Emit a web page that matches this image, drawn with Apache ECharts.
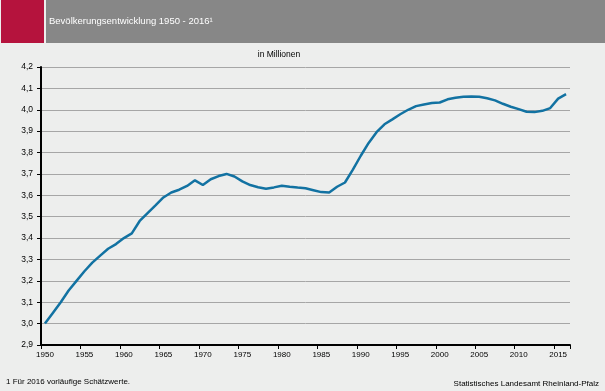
<!DOCTYPE html>
<html>
<head>
<meta charset="utf-8">
<script src="https://cdn.jsdelivr.net/npm/echarts@6/dist/echarts.min.js"></script>
<style>
html,body{margin:0;padding:0;background:#edeeed;}
#c{width:605px;height:391px;}
</style>
</head>
<body>
<div id="c"></div>
<script>
var years = [];
for (var y = 1950; y <= 2016; y++) years.push(String(y));
var population = [
  3.000, 3.050, 3.100, 3.155, 3.200, 3.245, 3.285, 3.318, 3.350, 3.372,
  3.400, 3.422, 3.480, 3.517, 3.553, 3.590, 3.613, 3.626, 3.644, 3.670,
  3.648, 3.675, 3.690, 3.700, 3.688, 3.665, 3.648, 3.638, 3.631, 3.637,
  3.645, 3.640, 3.636, 3.633, 3.624, 3.615, 3.613, 3.640, 3.660, 3.720,
  3.785, 3.845, 3.895, 3.932, 3.955, 3.979, 4.000, 4.017, 4.025, 4.032,
  4.034, 4.049, 4.056, 4.061, 4.062, 4.061, 4.054, 4.044, 4.028, 4.014,
  4.003, 3.991, 3.989, 3.995, 4.008, 4.052, 4.073
];
var headerTitle = 'Bevölkerungsentwicklung 1950 - 2016¹';
var unitLabel = 'in Millionen';
var footnote = '1 Für 2016 vorläufige Schätzwerte.';
var source = 'Statistisches Landesamt Rheinland-Pfalz';

var font = 'Liberation Sans, Arial, sans-serif';
var chart = echarts.init(document.getElementById('c'), null, {renderer: 'canvas'});
chart.setOption({
  backgroundColor: '#edeeed',
  animation: false,
  grid: {left: 41, top: 67, width: 529, bottom: 46, containLabel: false},
  graphic: [
    {type: 'rect', shape: {x: 1, y: 0, width: 43, height: 43}, style: {fill: '#b5133d'}},
    {type: 'rect', shape: {x: 46, y: 0, width: 559, height: 43}, style: {fill: '#878787'}},
    {type: 'text', x: 49, y: 21, style: {text: headerTitle, fill: '#ffffff', font: '9.5px ' + font, verticalAlign: 'middle'}},
    {type: 'text', x: 279, y: 55, style: {text: unitLabel, fill: '#000000', font: '8.5px ' + font, align: 'center', verticalAlign: 'middle'}},
    {type: 'text', x: 6, y: 382, style: {text: footnote, fill: '#000000', font: '8px ' + font, verticalAlign: 'middle'}},
    {type: 'text', x: 599, y: 384, style: {text: source, fill: '#000000', font: '8px ' + font, align: 'right', verticalAlign: 'middle'}}
  ],
  xAxis: {
    type: 'category',
    data: years,
    boundaryGap: true,
    axisLine: {lineStyle: {color: '#000', width: 2}},
    axisTick: {show: true, interval: 4, length: 4, lineStyle: {color: '#000', width: 1}},
    axisLabel: {interval: 4, margin: 6, color: '#000', fontSize: 8, fontFamily: font},
    splitLine: {show: false}
  },
  yAxis: {
    type: 'value',
    min: 2.9, max: 4.2, interval: 0.1,
    axisLine: {show: true, lineStyle: {color: '#000', width: 2}},
    axisTick: {show: true, length: 4, lineStyle: {color: '#000', width: 1}},
    axisLabel: {margin: 8, color: '#000', fontSize: 8.5, fontFamily: font,
      formatter: function (v) { return (Math.round(v * 10) / 10).toFixed(1).replace('.', ','); }},
    splitLine: {show: true, lineStyle: {color: '#a6a6a6', width: 1}}
  },
  series: [{
    type: 'line',
    data: population,
    symbol: 'none',
    lineStyle: {color: '#1272a2', width: 2.5},
    z: 3
  }]
});
</script>
</body>
</html>
